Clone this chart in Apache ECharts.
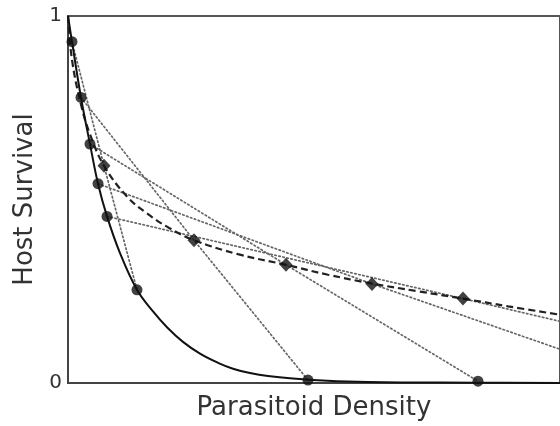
<!DOCTYPE html>
<html>
<head>
<meta charset="utf-8">
<script src="https://cdn.jsdelivr.net/npm/echarts@6/dist/echarts.min.js"></script>
<style>
  html, body { margin: 0; padding: 0; background: #fff; }
  #main { width: 560px; height: 426px; }
</style>
</head>
<body>
<div id="main"></div>
<script>
// parasitoid density runs 0..100 across the plot, survival is a fraction 0..1
var solidX = [0, 0.81, 2.64, 4.47, 6.1, 7.93, 10.57, 14.02, 17.28, 20.12, 23.37, 26.83, 30.49, 33.54, 36.99, 40.65, 48.78, 60.98, 83.33, 100]
var solidY = [1, 0.93, 0.778, 0.651, 0.543, 0.454, 0.354, 0.254, 0.195, 0.152, 0.112, 0.08, 0.055, 0.039, 0.027, 0.019, 0.009, 0.003, 0.001, 0]

var dashedX = [0, 0.81, 2.64, 4.47, 7.32, 11.99, 16.06, 20.73, 25.61, 34.55, 44.31, 52.85, 61.79, 71.14, 80.28, 89.43, 100]
var dashedY = [1, 0.881, 0.759, 0.678, 0.592, 0.508, 0.462, 0.421, 0.389, 0.351, 0.322, 0.295, 0.271, 0.25, 0.23, 0.209, 0.186]

// circles on the solid curve
var circleX = [0.81, 2.64, 4.47, 6.1, 7.93, 14.02, 48.78, 83.33]
var circleY = [0.93, 0.778, 0.651, 0.543, 0.454, 0.254, 0.008, 0.005]

// diamonds on the dashed curve
var diamondX = [7.32, 25.61, 44.31, 61.79, 80.28]
var diamondY = [0.592, 0.389, 0.322, 0.27, 0.23]

// dotted chords: upper circle -> diamond -> lower end
var chordX = [
  [0.81, 7.32, 14.02],
  [2.64, 25.61, 48.78],
  [4.47, 44.31, 83.33],
  [6.1, 61.79, 100],
  [7.93, 80.28, 100]
]
var chordY = [
  [0.93, 0.592, 0.254],
  [0.778, 0.389, 0.008],
  [0.651, 0.322, 0.005],
  [0.543, 0.27, 0.092],
  [0.454, 0.23, 0.168]
]

function pairs(xs, ys) {
  return xs.map(function (x, i) { return [x, ys[i]] })
}

var chartDom = document.getElementById('main')
var myChart = echarts.init(chartDom)

var series = []
chordX.forEach(function (xs, i) {
  series.push({
    type: 'line',
    data: pairs(xs, chordY[i]),
    showSymbol: false,
    silent: true,
    lineStyle: { color: '#666', width: 1.7, type: [1.5, 2.6], cap: 'round' },
    z: 2
  })
})
series.push({
  type: 'line',
  data: pairs(dashedX, dashedY),
  showSymbol: false,
  smooth: 0.4,
  lineStyle: { color: '#222', width: 2.2, type: [7, 4] },
  z: 3
})
series.push({
  type: 'line',
  data: pairs(solidX, solidY),
  showSymbol: false,
  smooth: 0.4,
  lineStyle: { color: '#111', width: 2 },
  z: 4
})
series.push({
  type: 'scatter',
  data: pairs(circleX, circleY),
  symbol: 'circle',
  symbolSize: 11,
  itemStyle: { color: '#111' },
  z: 5
})
series.push({
  type: 'scatter',
  data: pairs(diamondX, diamondY),
  symbol: 'diamond',
  symbolSize: [13, 14],
  itemStyle: { color: '#111' },
  z: 5
})

var option = {
  animation: false,
  backgroundColor: '#fff',
  grid: {
    left: 68,
    top: 16,
    right: -3,
    bottom: 40,
    show: true,
    borderColor: '#555',
    borderWidth: 2
  },
  xAxis: {
    type: 'value',
    min: 0,
    max: 100,
    name: 'Parasitoid Density',
    nameLocation: 'middle',
    nameGap: 12,
    nameTextStyle: { fontSize: 26, color: '#333', fontFamily: 'DejaVu Sans', verticalAlign: 'top' },
    axisLine: { show: true, lineStyle: { color: '#444', width: 2 } },
    axisTick: { show: false },
    axisLabel: { show: false },
    splitLine: { show: false }
  },
  yAxis: {
    type: 'value',
    min: 0,
    max: 1,
    interval: 1,
    name: 'Host Survival',
    nameLocation: 'middle',
    nameGap: 28,
    nameTextStyle: { fontSize: 26, color: '#333', fontFamily: 'DejaVu Sans' },
    axisLine: { show: true, lineStyle: { color: '#444', width: 2 } },
    axisTick: { show: false },
    axisLabel: { fontSize: 20, color: '#333', margin: 6, fontFamily: 'DejaVu Sans' },
    splitLine: { show: false }
  },
  series: series
}
option && myChart.setOption(option)
</script>
</body>
</html>
